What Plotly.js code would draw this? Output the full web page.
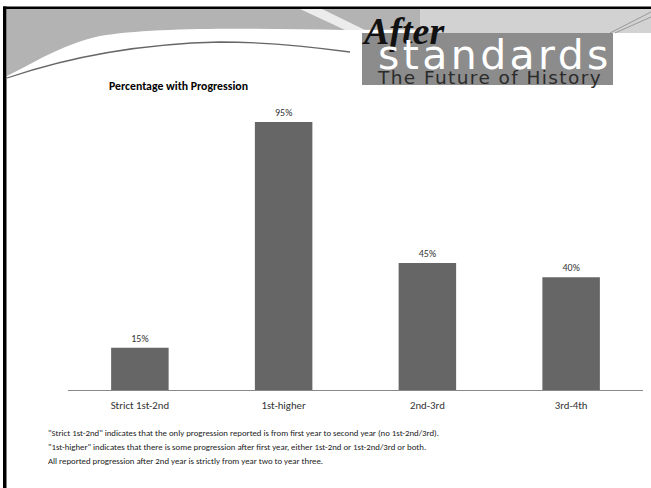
<!DOCTYPE html>
<html><head><meta charset="utf-8">
<script src="https://cdn.plot.ly/plotly-3.0.1.min.js"></script>
<style>html,body{margin:0;padding:0;background:#fff;overflow:hidden}#chart{width:651px;height:488px}</style>
</head><body><div id="chart"></div>
<script>
const categories = ["Strict 1st-2nd", "1st-higher", "2nd-3rd", "3rd-4th"];
const values = [15, 95, 45, 40];
const valueLabels = ["15%", "95%", "45%", "40%"];
const chartTitle = "Percentage with Progression";
const footnotes = [
  "\"Strict 1st-2nd\" indicates that the only progression reported is from first year to second year (no 1st-2nd/3rd).",
  "\"1st-higher\" indicates that there is some progression after first year, either 1st-2nd or 1st-2nd/3rd or both.",
  "All reported progression after 2nd year is strictly from year two to year three."
];

const W = 651, H = 488, L = 68, R = 8, T = 108, B = 98;
const pw = W - L - R, ph = H - T - B;
const px = x => (x - L) / pw;
const py = y => (H - B - y) / ph;
function path(s) {
  let i = 0;
  return s.replace(/-?\d+(\.\d+)?/g, m => {
    const v = parseFloat(m);
    const r = (i % 2 === 0) ? px(v) : py(v);
    i++;
    return r.toFixed(5);
  });
}
const FONT = "Carlito, Calibri, 'Liberation Sans Narrow', 'Open Sans', sans-serif";
const LOGOFONT = "'DejaVu Sans', sans-serif";

const shapes = [
  {type:'path', xref:'paper', yref:'paper', layer:'below', line:{width:0}, fillcolor:'#b3b3b3',
   path: path('M 7 9 L 651 9 L 651 28 L 345 30 C 250 28 150 27 100 36 C 60 45 30 65 7 76 Z')},
  {type:'path', xref:'paper', yref:'paper', layer:'below', line:{width:0}, fillcolor:'#d2d2d2',
   path: path('M 420 9 L 651 9 L 651 33 L 420 33 Z')},
  {type:'path', xref:'paper', yref:'paper', layer:'below', line:{width:0}, fillcolor:'#ececec',
   path: path('M 300 9 L 322 9 L 365 30 L 345 30 Z')},
  {type:'path', xref:'paper', yref:'paper', layer:'below', line:{width:1.3, color:'#666'},
   path: path('M 7 78 C 60 60 130 44 220 42 C 270 42 320 48 350 52')},
  {type:'path', xref:'paper', yref:'paper', layer:'below', line:{width:1, color:'#999'},
   path: path('M 610 33 L 651 12')},
  {type:'path', xref:'paper', yref:'paper', layer:'below', line:{width:1, color:'#999'},
   path: path('M 615 33 L 651 17')},
  {type:'rect', xref:'paper', yref:'paper', layer:'below', line:{width:0}, fillcolor:'#8c8c8c',
   x0:px(362), x1:px(613), y0:py(85), y1:py(33)},
  {type:'rect', xref:'paper', yref:'paper', line:{width:0}, fillcolor:'#000',
   x0:px(3), x1:px(651), y0:py(9), y1:py(6.5)},
  {type:'rect', xref:'paper', yref:'paper', line:{width:0}, fillcolor:'#000',
   x0:px(3), x1:px(6.5), y0:py(488), y1:py(6.5)}
];

const ann = (x, y, text, font, xanchor, yanchor) => ({
  xref:'paper', yref:'paper', x:px(x), y:py(y), text, showarrow:false,
  xanchor:xanchor||'left', yanchor:yanchor||'middle', font, align:'left'
});

const annotations = [
  ann(107, 86, '<b>' + chartTitle + '</b>', {family:FONT, size:11.8, color:'#000'}),
  ann(360, 31, '<b><i>After</i></b>', {family:"'Liberation Serif', serif", size:38, color:'#111'}),
  ann(375, 29,
      '<span style="font-size:41px;letter-spacing:3.4px;color:#fff">standards</span><br>' +
      '<span style="font-size:18.5px;letter-spacing:1.4px">The Future of History</span>',
      {family:LOGOFONT, size:11.5, color:'#2b2b2b'}, 'left', 'top')
];
footnotes.forEach((t, i) => annotations.push(ann(46, 433 + 14 * i, t, {family:FONT, size:8.8, color:'#222'})));

const trace = {
  type:'bar', x:categories, y:values, text:valueLabels, textposition:'outside',
  cliponaxis:false, textfont:{family:FONT, size:10, color:'#333'},
  marker:{color:'#666666', line:{width:0}}, hoverinfo:'skip'
};

const layout = {
  width:W, height:H, margin:{l:L, r:R, t:T, b:B, pad:0},
  paper_bgcolor:'#fff', plot_bgcolor:'rgba(0,0,0,0)',
  showlegend:false, bargap:0.6,
  font:{family:FONT, color:'#333'},
  xaxis:{showline:true, linecolor:'#888', linewidth:1, ticks:'', showgrid:false, zeroline:false,
         tickfont:{family:FONT, size:10.8, color:'#333'}, ticklabelstandoff:5, fixedrange:true},
  yaxis:{range:[0,100], visible:false, fixedrange:true},
  shapes, annotations
};
Plotly.newPlot('chart', [trace], layout, {displayModeBar:false, staticPlot:true});
</script></body></html>
